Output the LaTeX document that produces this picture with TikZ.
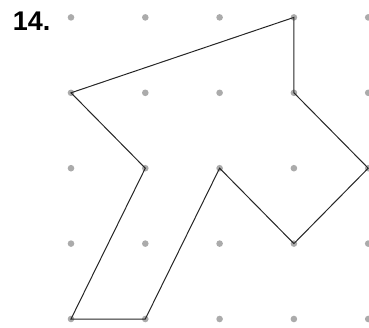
\documentclass[tikz,border=0pt]{standalone}
\usepackage{fontspec}
\setmainfont{Liberation Sans}
\tikzset{
  griddot/.style={fill=black!33},
  outline/.style={line width=1pt, black!85, line join=miter}
}
\begin{document}
\begin{tikzpicture}[x=74.3pt, y=75.4pt]
    \useasboundingbox (-0.9556,-0.1061) rectangle (4.0108,4.2308);
    % Dot grid
    \foreach \i in {0,...,4}
        \foreach \j in {0,...,4}
            \fill[griddot] (\i,\j) circle (3.3pt);
    % Label
    \node[inner sep=0pt, font=\fontsize{27}{30}\selectfont\bfseries] (num) at (-0.53,3.95) {14.};
    % Corners of the figure
    \coordinate (a) at (3,4);
    \coordinate (b) at (3,3);
    \coordinate (c) at (4,2);
    \coordinate (d) at (3,1);
    \coordinate (e) at (2,2);
    \coordinate (f) at (1,0);
    \coordinate (g) at (0,0);
    \coordinate (h) at (1,2);
    \coordinate (k) at (0,3);
    % Figure
    \draw[outline] (a) -- (b) -- (c) -- (d) -- (e) -- (f) -- (g) -- (h) -- (k) -- cycle;
\end{tikzpicture}
\end{document}
